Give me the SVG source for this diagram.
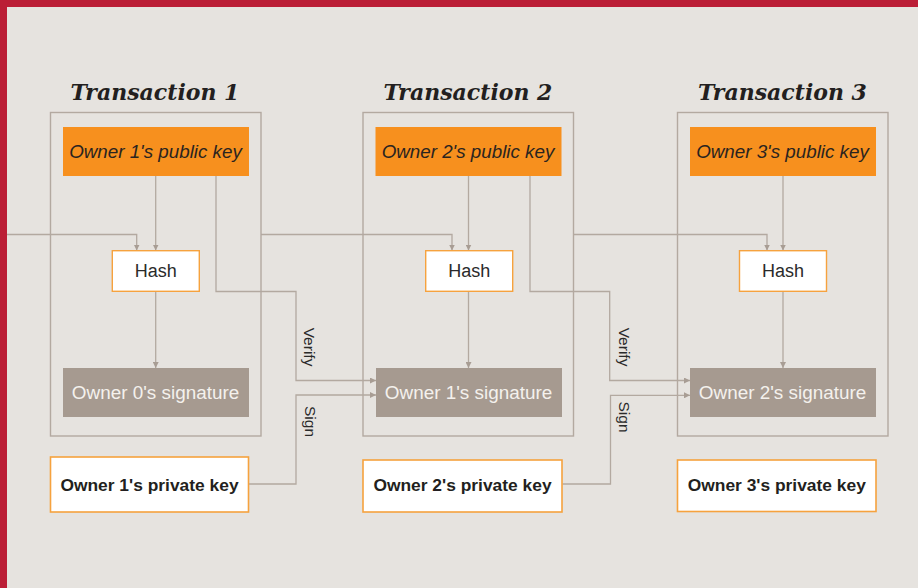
<svg xmlns="http://www.w3.org/2000/svg" width="918" height="588" viewBox="0 0 918 588">
  <defs>
    <marker id="arr" markerUnits="userSpaceOnUse" viewBox="0 0 10 10" markerWidth="6" markerHeight="6" refX="10" refY="5" orient="auto">
      <path d="M0,0 L10,5 L0,10 z" fill="#A89D94"/>
    </marker>
    <style>
      .frame { fill: none; stroke: #B3A9A0; stroke-width: 1.4; }
      .title { font-family: "DejaVu Serif", Georgia, serif; font-weight: bold; font-style: italic; font-size: 22px; fill: #231F20; text-anchor: middle; }
      .pub { fill: #F7901E; }
      .pubt { font-family: "Liberation Sans", Arial, sans-serif; font-style: italic; font-size: 18.8px; fill: #2A2420; text-anchor: middle; }
      .hash { fill: #FFFFFF; stroke: #F6A23E; stroke-width: 1.4; }
      .hasht { font-family: "Liberation Sans", Arial, sans-serif; font-size: 18px; fill: #2A2A2A; text-anchor: middle; }
      .sig { fill: #A69A90; }
      .sigt { font-family: "Liberation Sans", Arial, sans-serif; font-size: 18.9px; fill: #F4F1ED; text-anchor: middle; }
      .priv { fill: #FFFFFF; stroke: #F6A23E; stroke-width: 1.6; }
      .privt { font-family: "Liberation Sans", Arial, sans-serif; font-weight: bold; font-size: 17.4px; fill: #231F20; text-anchor: middle; }
      .conn path { fill: none; stroke: #B3A9A0; stroke-width: 1.3; }
      .lbl { font-family: "Liberation Sans", Arial, sans-serif; font-size: 15.5px; fill: #2A2A2A; text-anchor: middle; }
    </style>
  </defs>

  <rect x="0" y="0" width="918" height="588" fill="#E6E3DF"/>
  <rect x="0" y="0" width="918" height="7" fill="#BB1E36"/>
  <rect x="0" y="0" width="7" height="588" fill="#BB1E36"/>

  <g id="connectors" class="conn">
    <path d="M7,234.5 H136.7 V250.5" marker-end="url(#arr)"/>
    <path d="M155.7,176 V250.5" marker-end="url(#arr)"/>
    <path d="M155.7,291.5 V368" marker-end="url(#arr)"/>
    <path d="M216,176 V291.5 H296 V380.5 H376" marker-end="url(#arr)"/>
    <path d="M249,484 H296 V395 H376" marker-end="url(#arr)"/>
    <path d="M261,234.5 H452 V250.5" marker-end="url(#arr)"/>
    <path d="M468.5,176 V250.5" marker-end="url(#arr)"/>
    <path d="M468.5,291.5 V368" marker-end="url(#arr)"/>
    <path d="M530,176 V291.5 H609.7 V380.5 H690" marker-end="url(#arr)"/>
    <path d="M562.5,484 H610.5 V395.3 H690" marker-end="url(#arr)"/>
    <path d="M574,234.5 H767 V250.5" marker-end="url(#arr)"/>
    <path d="M783,176 V250.5" marker-end="url(#arr)"/>
    <path d="M783,291.5 V368" marker-end="url(#arr)"/>
    <text class="lbl" transform="translate(304,347) rotate(90)">Verify</text>
    <text class="lbl" transform="translate(304.5,421.5) rotate(90)">Sign</text>
    <text class="lbl" transform="translate(618.5,347) rotate(90)">Verify</text>
    <text class="lbl" transform="translate(619,417) rotate(90)">Sign</text>
  </g>

  <g id="transaction1">
    <text class="title" x="155" y="100">Transaction 1</text>
    <rect class="frame" x="50.5" y="112.5" width="210.5" height="323.5"/>
  </g>
  <g id="transaction2">
    <text class="title" x="468" y="100">Transaction 2</text>
    <rect class="frame" x="363" y="112.5" width="210.5" height="323.5"/>
  </g>
  <g id="transaction3">
    <text class="title" x="782.5" y="100">Transaction 3</text>
    <rect class="frame" x="677.5" y="112.5" width="210.5" height="323.5"/>
  </g>

  <g id="pubkey1">
    <rect class="pub" x="63" y="127" width="186" height="49"/>
    <text class="pubt" x="155.5" y="158">Owner 1's public key</text>
  </g>
  <g id="pubkey2">
    <rect class="pub" x="375.5" y="127" width="186" height="49"/>
    <text class="pubt" x="468" y="158">Owner 2's public key</text>
  </g>
  <g id="pubkey3">
    <rect class="pub" x="690" y="127" width="186" height="49"/>
    <text class="pubt" x="782.5" y="158">Owner 3's public key</text>
  </g>

  <g id="hash1">
    <rect class="hash" x="112.3" y="250.7" width="87" height="40.6"/>
    <text class="hasht" x="155.8" y="277">Hash</text>
  </g>
  <g id="hash2">
    <rect class="hash" x="425.7" y="250.7" width="87" height="40.6"/>
    <text class="hasht" x="469.2" y="277">Hash</text>
  </g>
  <g id="hash3">
    <rect class="hash" x="739.5" y="250.7" width="87" height="40.6"/>
    <text class="hasht" x="783" y="277">Hash</text>
  </g>

  <g id="sig0">
    <rect class="sig" x="63" y="368" width="186" height="49"/>
    <text class="sigt" x="155.5" y="398.7">Owner 0's signature</text>
  </g>
  <g id="sig1">
    <rect class="sig" x="376" y="368" width="186" height="49"/>
    <text class="sigt" x="468.5" y="398.7">Owner 1's signature</text>
  </g>
  <g id="sig2">
    <rect class="sig" x="690" y="368" width="186" height="49"/>
    <text class="sigt" x="782.5" y="398.7">Owner 2's signature</text>
  </g>

  <g id="privkey1">
    <rect class="priv" x="50.5" y="457" width="198" height="55"/>
    <text class="privt" x="149.5" y="491">Owner 1's private key</text>
  </g>
  <g id="privkey2">
    <rect class="priv" x="363" y="460" width="199" height="52"/>
    <text class="privt" x="462.5" y="491">Owner 2's private key</text>
  </g>
  <g id="privkey3">
    <rect class="priv" x="677.5" y="460" width="198.5" height="51.5"/>
    <text class="privt" x="776.8" y="491">Owner 3's private key</text>
  </g>
</svg>
